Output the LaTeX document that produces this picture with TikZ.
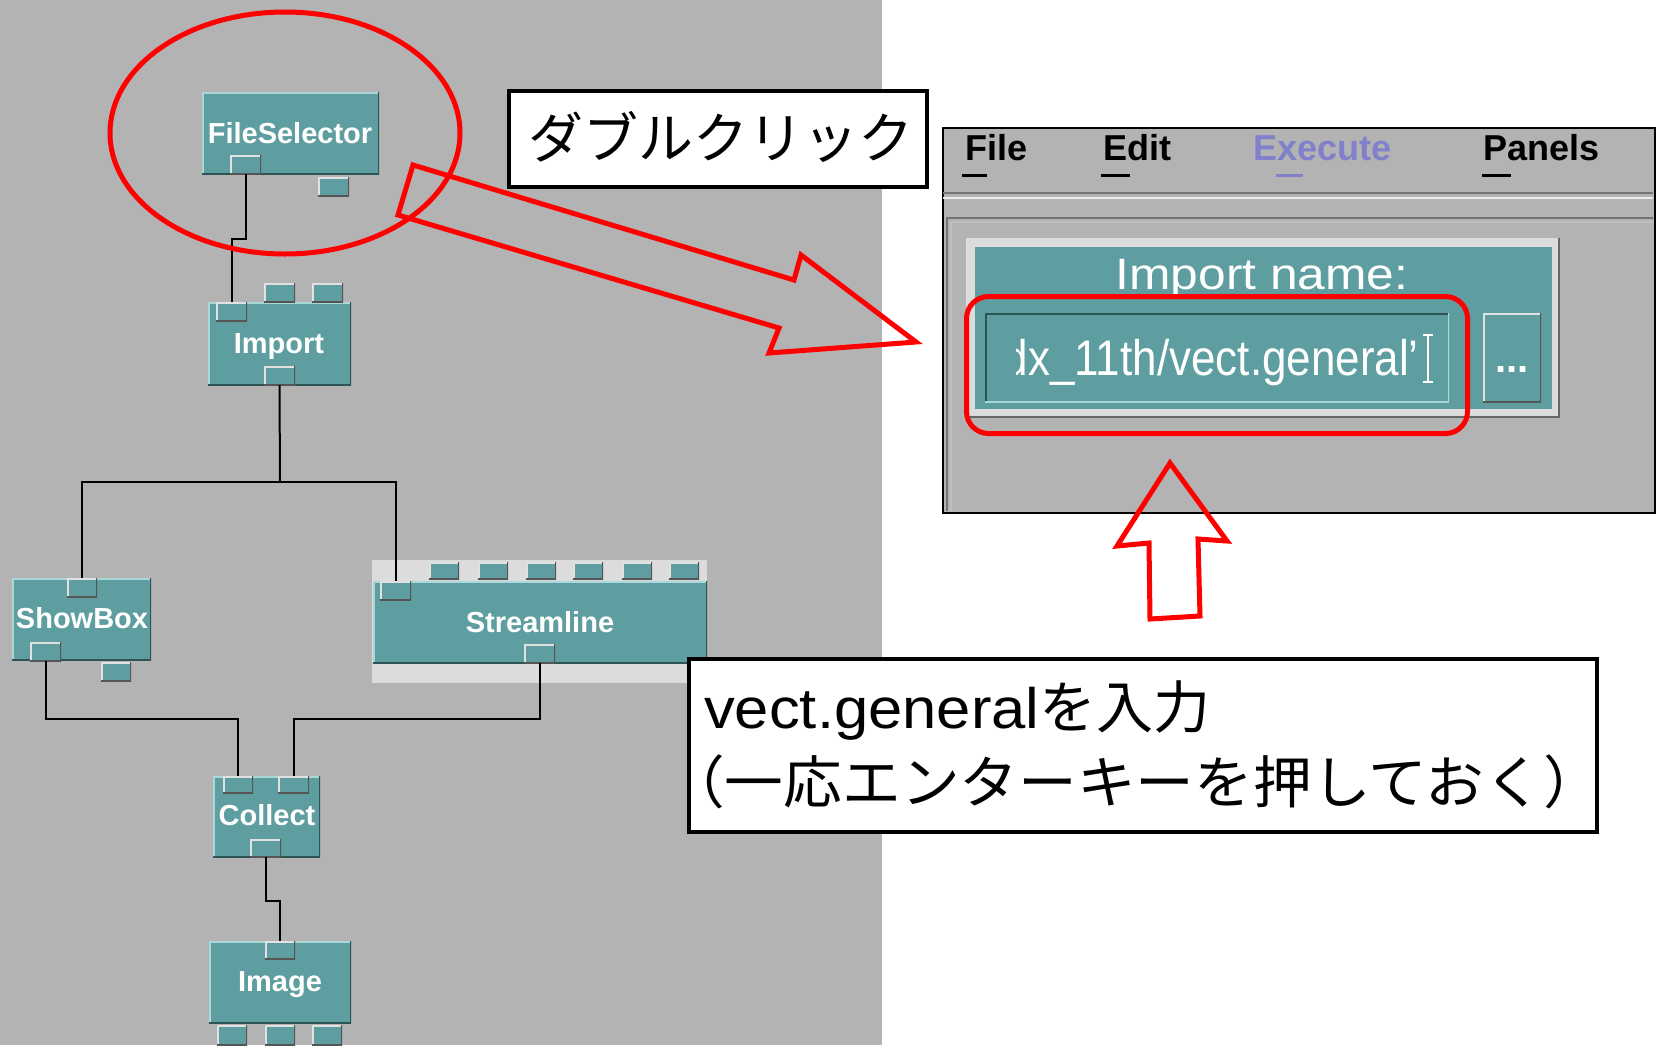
\documentclass[tikz,border=0pt]{standalone}
\usepackage{fontspec}
\setmainfont{Liberation Sans}
\newfontfamily\jp{Noto Sans CJK JP}
\usepackage{graphicx}
\usetikzlibrary{shapes.geometric,calc}
\definecolor{bggrey}{RGB}{179,179,179}
\definecolor{teal0}{RGB}{95,158,160}
\definecolor{modlight}{RGB}{170,215,215}
\definecolor{moddark}{RGB}{45,85,85}
\definecolor{portlight}{RGB}{225,225,225}
\definecolor{portdark}{RGB}{85,85,85}
\definecolor{frame0}{RGB}{220,220,220}
\definecolor{lav}{RGB}{128,128,204}
\definecolor{red0}{RGB}{255,0,0}
\begin{document}
\begin{tikzpicture}[x=1pt,y=-1pt,
  bevel/.style 2 args={path picture={
    \draw[#1,line width=3pt] (path picture bounding box.south west) -- (path picture bounding box.north west) -- (path picture bounding box.north east);
    \draw[#2,line width=3pt] (path picture bounding box.north east) -- (path picture bounding box.south east) -- (path picture bounding box.south west);}},
  module/.style={fill=teal0, inner sep=0pt, outer sep=0pt, anchor=north west, bevel={modlight}{moddark}},
  port/.style={fill=teal0, inner sep=0pt, outer sep=0pt, anchor=north west, minimum width=31pt, minimum height=19pt, bevel={portlight}{portdark}},
  lbl/.style={text=white, anchor=base, inner sep=0pt, font=\fontsize{29}{34}\selectfont\bfseries},
  wire/.style={draw=black, line width=2pt},
  redline/.style={draw=red0, line width=5pt, line join=miter},
  menu/.style={anchor=base west, inner sep=0pt, font=\fontsize{36}{40}\selectfont\bfseries},
  box/.style={draw=black, line width=4pt, fill=white, anchor=north west, inner sep=0pt},
]
\useasboundingbox (0,0) rectangle (1662,1045);
\fill[white] (0,0) rectangle (1662,1045);
\fill[bggrey] (0,0) rectangle (882,1045);

% ---------- modules ----------
\node[module, minimum width=177pt, minimum height=82pt] (fs) at (202,92) {};
\node[lbl] (fslbl) at (290,143) {FileSelector};
\node[port] (fsout) at (230,155) {};
\node[port] (fsx) at (318,177) {};

\node[module, minimum width=143pt, minimum height=83pt] (imp) at (208,302) {};
\node[lbl] (implbl) at (279,353) {Import};
\node[port] (impa) at (264,283) {};
\node[port] (impb) at (312,283) {};
\node[port] (impin) at (216,302) {};
\node[port] (impout) at (264,366) {};

\node[module, minimum width=139pt, minimum height=82pt] (sb) at (12,578) {};
\node[lbl] (sblbl) at (82,628) {ShowBox};
\node[port, minimum width=30pt] (sbin) at (67,578) {};
\node[port] (sbout) at (30,642) {};
\node[port, minimum width=30pt] (sbx) at (101,662) {};

\node[fill=frame0, anchor=north west, inner sep=0pt, minimum width=335pt, minimum height=123pt] (slframe) at (372,560) {};
\node[module, minimum width=334pt, minimum height=82pt] (sl) at (373,581) {};
\node[lbl] (sllbl) at (540,632) {Streamline};
\foreach \px [count=\i] in {429,478,526,573,622,669}
  \node[port, minimum width=30pt, minimum height=17pt] (slp\i) at (\px,562) {};
\node[port] (slin) at (380,581) {};
\node[port] (slout) at (524,644) {};

\node[module, minimum width=107pt, minimum height=81pt] (col) at (213,776) {};
\node[lbl] (collbl) at (267,825) {Collect};
\node[port, minimum width=30pt, minimum height=17pt] (colin1) at (223,776) {};
\node[port, minimum width=31pt, minimum height=17pt] (colin2) at (278,776) {};
\node[port, minimum height=18pt] (colout) at (250,839) {};

\node[module, minimum width=142pt, minimum height=82pt] (img) at (209,941) {};
\node[lbl] (imglbl) at (280,991) {Image};
\node[port, minimum width=30pt, minimum height=18pt] (imgin) at (265,941) {};
\node[port, minimum width=30pt, minimum height=20pt] (imgo1) at (217,1025) {};
\node[port, minimum width=30pt, minimum height=20pt] (imgo2) at (265,1025) {};
\node[port, minimum width=30pt, minimum height=20pt] (imgo3) at (312,1025) {};

% ---------- wires ----------
\coordinate (j1) at (232,239);
\coordinate (j2) at (280,482);
\coordinate (j3) at (0,719);
\coordinate (j4) at (0,901);
\draw[wire] (fsout.south) |- (j1) -- (j1 |- impin.north);
\draw[wire] (impout.south) -- (j2);
\draw[wire] (sbin.north) |- (j2) -| (slin.north);
\draw[wire] (sbout.south) -- (sbout.south |- j3) -| (colin1.north);
\draw[wire] (slout.south) -- (slout.south |- j3) -| (colin2.north);
\draw[wire] (colout.south) -- (colout.south |- j4) -| (imgin.north);

% ---------- right panel ----------
\node[draw=black, line width=2pt, fill=bggrey, anchor=north west, inner sep=0pt, minimum width=712pt, minimum height=385pt] (panel) at (942,127) {};
\draw[line width=2pt, black!55] (943,193) -- (1653,193);
\draw[line width=2pt, white!92!black] (943,198) -- (1653,198);
\draw[line width=2pt, black!55] (1653,218) -- (947,218) -- (947,511);
\draw[line width=2pt, black!25] (1653,221.5) -- (950.5,221.5) -- (950.5,511);

\node[menu] (mfile) at (965,160) {File};
\node[menu] (medit) at (1103,160) {Edit};
\node[menu, text=lav] (mexec) at (1253,160) {Execute};
\node[menu] (mpanels) at (1483,160) {Panels};
\draw[line width=3pt] (962,175) -- (987,175);
\draw[line width=3pt] (1101,175) -- (1130,175);
\draw[line width=3pt, lav] (1276,175) -- (1303,175);
\draw[line width=3pt] (1482,175) -- (1511,175);

\node[fill=frame0, anchor=north west, inner sep=0pt, minimum width=593pt, minimum height=179pt] (ibox) at (966,238) {};
\draw[line width=2pt, black!60] (ibox.north east) -- (ibox.south east) -- (ibox.south west);
\node[fill=teal0, anchor=north west, inner sep=0pt, minimum width=577pt, minimum height=162pt] (iteal) at (975,247) {};
\node[anchor=base, text=white, inner sep=0pt, font=\fontsize{44}{50}\selectfont] (iname) at (1262,289) {\scalebox{1.13}[1]{Import name:}};

\node[fill=teal0, anchor=north west, inner sep=0pt, minimum width=464pt, minimum height=89pt, bevel={moddark}{modlight}] (field) at (985,313) {};
\begin{scope}
  \clip (1016,316) rectangle (1446,400);
  \node[anchor=base east, text=white, inner sep=0pt, font=\fontsize{50}{56}\selectfont] (ftxt) at (1419,375) {\scalebox{0.88}[1]{dx\_11th/vect.general\symbol{"27}}};
\end{scope}
\draw[white, line width=2pt] (1428,335) -- (1428,382);
\draw[white, line width=2pt] (1423,335) -- (1433,335);
\draw[white, line width=2pt] (1423,382) -- (1433,382);

\node[fill=teal0, anchor=north west, inner sep=0pt, minimum width=58pt, minimum height=89pt, bevel={portlight}{portdark}] (btn) at (1483,313) {};
\node[anchor=base, text=white, inner sep=0pt, font=\fontsize{40}{44}\selectfont\bfseries] (btntxt) at (1512,372) {...};

\node[draw=red0, line width=5pt, rounded corners=22pt, anchor=north west, inner sep=0pt, minimum width=501pt, minimum height=137pt] (hl) at (964,294) {};

% ---------- annotations ----------
\node[ellipse, draw=red0, line width=5pt, minimum width=350pt, minimum height=242pt, inner sep=0pt] (ring) at (285,133) {};

\node[box, minimum width=418pt, minimum height=96pt] (dblbox) at (507,89) {};
\node[inner sep=0pt, font=\jp\fontsize{55}{60}\selectfont] (dbltxt) at (721,137) {ダブルクリック};

\draw[redline] (413,165) -- (794,280) -- (801,255) -- (916,342) -- (769,353) -- (779,328) -- (398,215) -- cycle;

\draw[redline] (1170,463) -- (1227,541) -- (1198,539) -- (1200,616) -- (1150,619) -- (1149,543) -- (1117,546) -- cycle;

\node[box, minimum width=908pt, minimum height=173pt] (inbox) at (687,657) {};
\node[anchor=base west, inner sep=0pt, font=\fontsize{57}{60}\selectfont] (line1) at (704,728) {\scalebox{1.08}[1]{vect.general}{\jp を入力}};
\node[anchor=base west, inner sep=0pt, font=\jp\fontsize{57}{60}\selectfont] (line2) at (666,803) {\scalebox{1.03}[1]{（一応エンターキーを押しておく）}};
\end{tikzpicture}
\end{document}
